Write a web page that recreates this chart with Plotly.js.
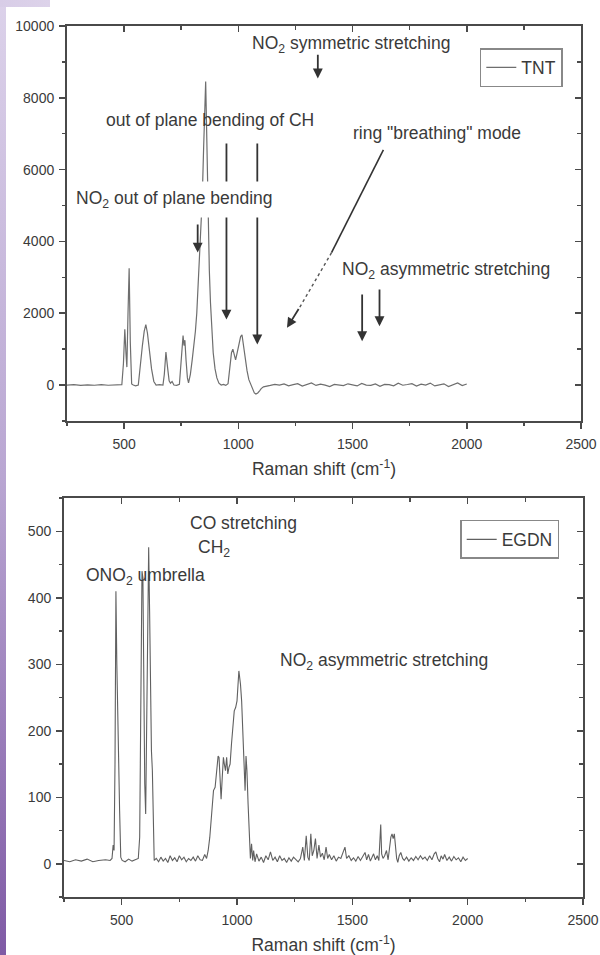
<!DOCTYPE html>
<html>
<head>
<meta charset="utf-8">
<script src="https://cdn.plot.ly/plotly-3.0.1.min.js"></script>
<style>
  html, body { margin: 0; padding: 0; background: #ffffff; }
  #chart { width: 600px; height: 955px; position: absolute; left: 0; top: 0; }
  #stripe { position: absolute; left: 0; top: 0; width: 6px; height: 955px; z-index: 10;
            background: linear-gradient(to bottom, #dcd2ea 0%, #b9a6d2 50%, #7f5aa5 100%); }
  #stripeTop { position: absolute; left: 0; top: 0; width: 50px; height: 7px; z-index: 10;
               background: linear-gradient(to right, #d8cde7, #ddd3ea); }
</style>
</head>
<body>
<div id="chart"></div>
<div id="stripe"></div>
<div id="stripeTop"></div>
<script>
// ---------- TNT spectrum (Raman shift cm-1, intensity) ----------
const tntX = [250,280,310,340,370,400,430,460,480,490,497,503,508,512,517,522,527,533,540,550,562,568,573,580,588,595,602,610,620,630,640,655,670,676,683,690,697,703,710,718,730,742,748,754,758,762,766,771,777,782,790,798,806,812,818,824,830,836,842,848,853,857,860,863,866,869,873,878,884,890,898,906,915,925,935,945,955,962,970,976,982,988,995,1002,1010,1016,1022,1030,1038,1046,1055,1063,1070,1077,1085,1093,1100,1110,1120,
  1140,1160,1180,1200,1220,1240,1260,1280,1300,1320,1340,1360,1380,1400,1420,1440,1460,1480,1500,1520,1540,1560,1580,1600,1620,1640,1660,1680,1700,1720,1740,1760,1780,1800,1820,1840,1860,1880,1900,1920,1940,1960,1980,2000];
const tntY = [0,10,-10,5,-5,10,-5,5,0,10,600,1550,900,500,2000,3250,1200,30,0,-20,0,400,800,1100,1500,1680,1450,1000,450,100,0,10,0,300,920,500,120,50,100,0,-10,20,500,1200,1380,1100,1250,700,200,60,300,700,1100,1500,2000,2800,3600,4300,5200,6600,7800,8450,7500,6300,5200,4400,3200,2300,1500,900,450,200,50,0,20,-10,40,500,900,1000,850,700,900,1150,1350,1400,1100,650,400,150,0,-120,-220,-250,-220,-160,-100,-50,-30,
  -10,20,0,30,-20,10,40,-30,15,60,-10,25,0,-40,20,10,-15,35,5,-25,45,0,-10,30,-35,20,10,-20,50,-5,15,40,-30,25,0,55,-25,10,35,-40,20,60,-15,30];

// ---------- EGDN spectrum ----------
const egdnX = [250,275,300,325,350,375,400,430,450,458,463,467,471,475,479,483,487,491,496,502,515,530,545,560,572,578,583,588,592,596,600,604,608,612,617,621,625,629,633,637,641,650,660,670,680,690,700,710,720,730,740,750,760,770,780,790,800,810,820,830,840,850,860,868,875,882,890,898,905,912,918,922,927,931,936,941,945,950,955,960,965,970,976,982,988,994,1000,1008,1015,1020,1025,1030,1035,1039,1043,1048,1053,1058,1063,1068,1072,1078,
  1085,1095,1105,1115,1125,1135,1145,1155,1165,1175,1185,1195,1205,1215,1225,1235,1245,1255,1265,1275,1285,1292,1300,1307,1313,1320,1326,1333,1340,1347,1355,1362,1370,1378,1386,1393,1400,1410,1420,1430,1440,1450,1460,1468,1475,1485,1495,1505,1515,1525,1535,1545,1555,1562,1570,1578,1585,1592,1600,1608,1615,1620,1623,1627,1633,1640,1648,1655,1662,1667,1672,1677,1682,1687,1692,1697,1703,1710,1718,1725,1735,1745,1755,1765,1775,1785,1795,1805,1815,1825,1835,1845,1855,1862,1870,1878,1885,1893,1900,1910,1920,1930,1940,1950,1960,1970,1980,1990,2000];
const egdnY = [5,3,6,4,7,3,5,6,5,8,28,20,150,410,300,200,160,80,10,5,3,7,4,6,8,40,200,440,430,250,120,75,200,420,476,380,250,170,140,60,5,8,3,10,4,8,2,12,5,9,3,12,6,10,3,8,5,10,4,12,6,5,14,8,20,40,80,110,115,140,162,160,120,97,130,160,150,140,160,135,145,150,180,200,230,235,245,290,270,245,200,150,110,162,140,90,40,8,30,5,20,3,
  15,4,10,2,12,6,18,5,10,3,12,5,8,2,9,4,10,6,3,8,25,5,42,10,5,45,12,20,38,8,28,10,16,6,25,8,14,6,12,4,10,8,16,25,8,12,5,9,4,11,5,12,17,6,14,4,10,15,6,12,5,30,59,15,8,12,20,6,30,40,45,38,45,20,8,2,12,17,8,5,10,4,9,5,11,6,12,7,10,5,12,6,15,18,8,3,12,7,14,5,10,4,11,6,9,3,10,5,8];

// ---------- axis settings ----------
const xRange = [250, 2500];
const xTicks = [500, 1000, 1500, 2000, 2500];
const tntRange = [-1000, 10000];
const egdnRange = [-50, 550];

// ---------- labels ----------
const tntLabels = [
  {text: 'NO<sub>2</sub> symmetric stretching', x: 1494, y: 9480},
  {text: 'out of plane bending of CH', x: 874, y: 7381},
  {text: 'ring "breathing" mode', x: 1869, y: 7012},
  {text: 'NO<sub>2</sub> asymmetric stretching', x: 1910, y: 3200}
];
const tntArrows = [ // [x head, y head, x tail, y tail]
  [1348, 8540, 1348, 9240],
  [948, 1825, 948, 6770],
  [1083, 1130, 1083, 6770],
  [822, 3690, 822, 4510],
  [1542, 1222, 1542, 2567],
  [1618, 1639, 1618, 2706],
  [1213, 1594, 1268, 2158]
];
const ringSolid = [1635, 6547, 1408, 3686];
const ringDotted = [1408, 3686, 1268, 2158];
const tntMasked = {text: 'NO<sub>2</sub> out of plane bending', x: 721, y: 5180};
const egdnLabels = [
  {text: 'CO stretching', x: 1029, y: 513},
  {text: 'CH<sub>2</sub>', x: 899, y: 474},
  {text: 'ONO<sub>2</sub> umbrella', x: 604, y: 432},
  {text: 'NO<sub>2</sub> asymmetric stretching', x: 1637, y: 304}
];

const FONT = '"Liberation Sans", Arial, sans-serif';
const TXT = '#3a3a3a';
const AX = '#4a4a4a';

const traces = [
  {x: tntX, y: tntY, type: 'scatter', mode: 'lines', name: 'TNT',
   xaxis: 'x', yaxis: 'y', legend: 'legend',
   line: {color: '#6e6e6e', width: 1.2}},
  {x: egdnX, y: egdnY, type: 'scatter', mode: 'lines', name: 'EGDN',
   xaxis: 'x2', yaxis: 'y2', legend: 'legend2',
   line: {color: '#606060', width: 1.1}},
  // empty carriers so the mirrored tick axes (top / right) get drawn
  {x: [], y: [], type: 'scatter', mode: 'lines', xaxis: 'x3', yaxis: 'y', showlegend: false, hoverinfo: 'skip'},
  {x: [], y: [], type: 'scatter', mode: 'lines', xaxis: 'x', yaxis: 'y3', showlegend: false, hoverinfo: 'skip'},
  {x: [], y: [], type: 'scatter', mode: 'lines', xaxis: 'x4', yaxis: 'y2', showlegend: false, hoverinfo: 'skip'},
  {x: [], y: [], type: 'scatter', mode: 'lines', xaxis: 'x2', yaxis: 'y4', showlegend: false, hoverinfo: 'skip'}
];

function baseX(extra) {
  return Object.assign({
    range: xRange, tickvals: xTicks, ticks: 'outside', ticklen: 6, tickwidth: 1.5, tickcolor: AX,
    minor: {dtick: 250, tick0: 0, ticks: 'outside', ticklen: 3, tickwidth: 1.5, tickcolor: AX, showgrid: false},
    showline: true, linecolor: AX, linewidth: 2, mirror: true,
    showgrid: false, zeroline: false, ticklabelstandoff: 3,
    tickfont: {family: FONT, size: 14, color: TXT},
    title: {text: 'Raman shift (cm<sup>-1</sup>)', font: {family: FONT, size: 17.5, color: TXT}, standoff: 12}
  }, extra);
}
function baseY(extra) {
  return Object.assign({
    ticks: 'outside', ticklen: 6, tickwidth: 1.5, tickcolor: AX, tickformat: 'd',
    showline: true, linecolor: AX, linewidth: 2, mirror: true,
    showgrid: false, zeroline: false, ticklabelstandoff: 2,
    tickfont: {family: FONT, size: 14, color: TXT}
  }, extra);
}
function mirrorX(over, anchor, minorStep) {
  return {overlaying: over, anchor: anchor, side: 'top', range: xRange, tickvals: xTicks,
    ticks: 'inside', ticklen: 6, tickwidth: 1.5, tickcolor: AX,
    minor: {dtick: minorStep, tick0: 0, ticks: 'inside', ticklen: 4, tickwidth: 1.5, tickcolor: AX},
    showticklabels: false, showline: false, showgrid: false, zeroline: false};
}
function mirrorY(over, anchor, range, dt, minorStep) {
  return {overlaying: over, anchor: anchor, side: 'right', range: range, dtick: dt, tick0: 0,
    ticks: 'inside', ticklen: 6, tickwidth: 1.5, tickcolor: AX,
    minor: {dtick: minorStep, tick0: 0, ticks: 'inside', ticklen: 4, tickwidth: 1.5, tickcolor: AX},
    showticklabels: false, showline: false, showgrid: false, zeroline: false};
}

const annotations = [];
const shapes = [];
function addArrow(a, xr, yr) {
  annotations.push({xref: xr, yref: yr, axref: xr, ayref: yr, x: a[0], y: a[1], ax: a[2], ay: a[3],
    text: '', showarrow: true, arrowhead: 2, arrowsize: 1.1, arrowwidth: 1.8, arrowcolor: '#333'});
}
tntLabels.forEach(l => annotations.push({xref: 'x', yref: 'y', x: l.x, y: l.y, text: l.text, showarrow: false,
  font: {family: FONT, size: 17.5, color: TXT}}));
tntArrows.forEach(a => addArrow(a, 'x', 'y'));
shapes.push({type: 'line', xref: 'x', yref: 'y', x0: ringSolid[0], y0: ringSolid[1], x1: ringSolid[2], y1: ringSolid[3],
  line: {color: '#333', width: 1.6}});
shapes.push({type: 'line', xref: 'x', yref: 'y', x0: ringDotted[0], y0: ringDotted[1], x1: ringDotted[2], y1: ringDotted[3],
  line: {color: '#555', width: 1.4, dash: 'dot'}});
annotations.push({xref: 'x', yref: 'y', x: tntMasked.x, y: tntMasked.y, text: tntMasked.text, showarrow: false,
  bgcolor: '#ffffff', borderpad: 6, font: {family: FONT, size: 17.5, color: TXT}});
egdnLabels.forEach(l => annotations.push({xref: 'x2', yref: 'y2', x: l.x, y: l.y, text: l.text, showarrow: false,
  font: {family: FONT, size: 17.5, color: TXT}}));

const legendStyle = {bordercolor: '#888', borderwidth: 1.5, bgcolor: '#ffffff',
  font: {family: FONT, size: 17.5, color: TXT}, xanchor: 'right', yanchor: 'top', itemwidth: 30, tracegroupgap: 0};

const layout = {
  width: 600, height: 955,
  margin: {l: 0, r: 0, t: 0, b: 0},
  paper_bgcolor: '#ffffff', plot_bgcolor: '#ffffff',
  font: {family: FONT, color: TXT},
  xaxis: baseX({domain: [0.1117, 0.9683], anchor: 'y'}),
  yaxis: baseY({domain: [0.5592, 0.9728], anchor: 'x', range: tntRange, dtick: 2000, tick0: 0,
    minor: {dtick: 1000, tick0: 0, ticks: 'outside', ticklen: 3, tickwidth: 1.5, tickcolor: AX}}),
  xaxis2: baseX({domain: [0.1067, 0.9717], anchor: 'y2'}),
  yaxis2: baseY({domain: [0.0607, 0.4785], anchor: 'x2', range: egdnRange, dtick: 100, tick0: 0,
    minor: {dtick: 50, tick0: 0, ticks: 'outside', ticklen: 3, tickwidth: 1.5, tickcolor: AX}}),
  xaxis3: mirrorX('x', 'y', 250),
  yaxis3: mirrorY('y', 'x', tntRange, 2000, 1000),
  xaxis4: mirrorX('x2', 'y2', 250),
  yaxis4: mirrorY('y2', 'x2', egdnRange, 100, 50),
  legend: Object.assign({x: 0.938, y: 0.9497}, legendStyle),
  legend2: Object.assign({x: 0.932, y: 0.4555}, legendStyle),
  annotations: annotations,
  shapes: shapes,
  showlegend: true
};

Plotly.newPlot('chart', traces, layout, {staticPlot: true, displayModeBar: false});
</script>
</body>
</html>
